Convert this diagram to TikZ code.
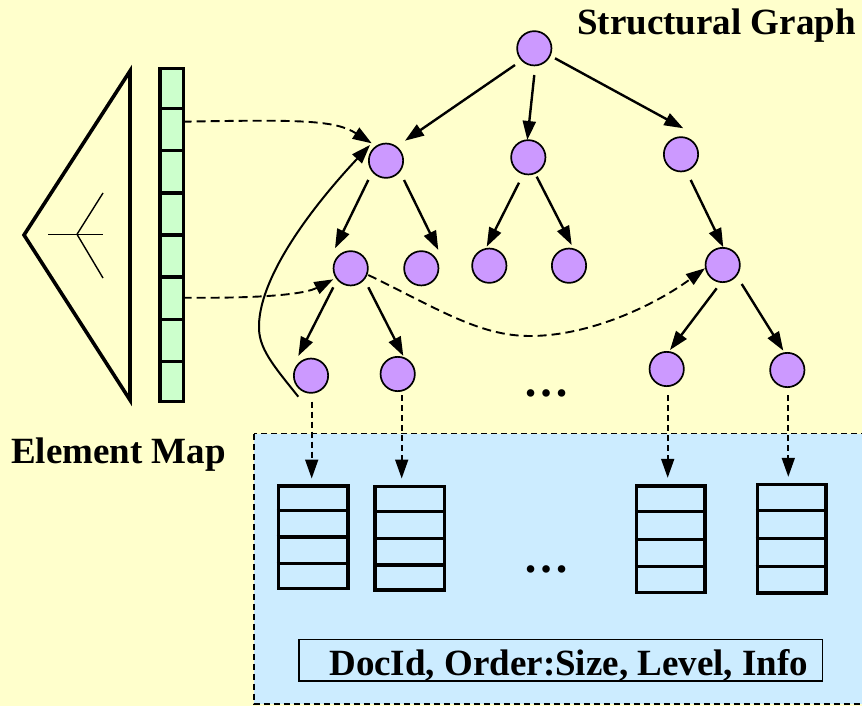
\documentclass[tikz,border=0pt]{standalone}
\usepackage{fontspec}
\setmainfont{Liberation Serif}
\usetikzlibrary{arrows.meta,calc}
\definecolor{bgyellow}{HTML}{FFFFCC}
\definecolor{boxblue}{HTML}{CCECFF}
\definecolor{mapgreen}{HTML}{CCFFCC}
\definecolor{nodepurple}{HTML}{CC99FF}
\begin{document}
\begin{tikzpicture}[x=1pt,y=-1pt,
  gnode/.style={circle, draw=black, line width=1.7pt, fill=nodepurple, minimum size=34.3pt, inner sep=0pt},
  tiptri/.style={-{Triangle[length=19pt,width=13pt]}},
  tarrow/.style={tiptri, line width=2.4pt},
  darrow/.style={tiptri, line width=1.8pt, dash pattern=on 6pt off 4pt},
  carrow/.style={tiptri, line width=1.9pt, dash pattern=on 9pt off 5pt},
  stackbox/.style={draw=black, line width=3.5pt, inner sep=0pt},
  lbl/.style={font=\fontsize{37}{40}\selectfont\bfseries, inner sep=0pt},
  dotlbl/.style={font=\fontsize{46}{50}\selectfont\bfseries, inner sep=0pt},
]
\fill[bgyellow] (0,0) rectangle (862,706);
\useasboundingbox (0,0) rectangle (862,706);
\clip (0,0) rectangle (862,706);

% lower blue region
\draw[fill=boxblue, line width=1.8pt, dash pattern=on 6pt off 4pt] (254,433.5) rectangle (880,704);

% triangle with inner mark
\draw[line width=3.6pt, line join=miter] (130,71) -- (24,235) -- (130,400) -- cycle;
\draw[line width=1.4pt] (48,234.3) -- (103,234.3);
\draw[line width=1.4pt] (77,234.3) -- (103,193);
\draw[line width=1.4pt] (77,234.3) -- (103,278);

% element map column
\node[draw=black, line width=3.4pt, fill=mapgreen, minimum width=23.4pt, minimum height=333.2pt, inner sep=0pt] (emap) at (171.7,235) {};
\foreach \i in {1,...,7}
  \draw[line width=3.2pt] ($(emap.north west)!\i/8!(emap.south west)$) -- ($(emap.north east)!\i/8!(emap.south east)$);

% graph nodes
\node[gnode] (root) at (534.3,48.3) {};
\node[gnode] (A) at (386,160.7) {};
\node[gnode] (M) at (528.3,157.3) {};
\node[gnode] (R) at (681,154.3) {};
\node[gnode] (B) at (350.7,268.3) {};
\node[gnode] (C) at (421.3,268.3) {};
\node[gnode] (M1) at (489.3,265.7) {};
\node[gnode] (M2) at (569,265.7) {};
\node[gnode] (R2) at (722.7,265) {};
\node[gnode] (D) at (311,375.7) {};
\node[gnode] (E) at (397.7,374) {};
\node[gnode] (F) at (666.7,369) {};
\node[gnode] (G) at (787.3,370) {};

% tree arrows
\draw[tarrow] ($(root)+(-19.3,16.7)$) -- ($(A)+(19,-20)$);
\draw[tarrow] ($(root)+(0,26.7)$) -- ($(M)+(-1,-17.3)$);
\draw[tarrow] ($(root)+(20.7,10)$) -- ($(R)+(2.3,-26)$);
\draw[tarrow] ($(A)+(-17.7,19.3)$) -- ($(B)+(-15.7,-20)$);
\draw[tarrow] ($(A)+(18,19.3)$) -- ($(C)+(17,-18.3)$);
\draw[tarrow] ($(B)+(-17.4,19)$) -- ($(D)+(-12.7,-19.7)$);
\draw[tarrow] ($(B)+(17.6,19)$) -- ($(E)+(5.6,-18)$);
\draw[tarrow] ($(M)+(-9.3,25.4)$) -- ($(M1)+(-2.6,-19)$);
\draw[tarrow] ($(M)+(8.4,19.4)$) -- ($(M2)+(2.7,-20.7)$);
\draw[tarrow] ($(R)+(9.7,25.7)$) -- ($(R2)+(0.6,-17.7)$);
\draw[tarrow] ($(R2)+(-6,23.3)$) -- ($(F)+(3.3,-19)$);
\draw[tarrow] ($(R2)+(19,19)$) -- ($(G)+(-4,-19.3)$);

% solid curved back arrow
\draw[tiptri, line width=2pt] ($(D)+(-12.7,21)$) .. controls (273,365) and (258,348) .. (259,325)
   .. controls (260,282) and (300,220) .. ($(A)+(-16,-15.7)$);

% dashed links from element map
\draw[carrow] ($(emap)+(11,-113.3)$) .. controls (300,119.5) and (335,120) .. ($(A)+(-14.3,-17.4)$);
\draw[carrow] ($(emap)+(11,62.7)$) .. controls (265,298.5) and (305,294) .. ($(B)+(-17.4,11)$);
\draw[carrow] ($(B)+(17.6,6.7)$) .. controls (440,310) and (480,336) .. (530,336)
   .. controls (590,336) and (655,305) .. ($(R2)+(-17.7,3.3)$);

% stacks
\node[stackbox, minimum width=69.5pt, minimum height=102.5pt] (s1) at (313,537) {};
\node[stackbox, minimum width=69.5pt, minimum height=103.5pt] (s2) at (409.5,538.3) {};
\node[stackbox, minimum width=68.5pt, minimum height=106.5pt] (s3) at (670.8,539.2) {};
\node[stackbox, minimum width=68.5pt, minimum height=108.5pt] (s4) at (791.5,538.8) {};
\foreach \s in {s1,s2,s3,s4}
  \foreach \i in {1,2,3}
    \draw[line width=3.2pt] ($(\s.north west)!\i/4!(\s.south west)$) -- ($(\s.north east)!\i/4!(\s.south east)$);

% dashed arrows to stacks
\draw[darrow] ($(D)+(0.7,26)$) -- ($(s1.north)+(-1.3,-5.5)$);
\draw[darrow] ($(E)+(4,21)$) -- ($(s2.north)+(-7.8,-6.3)$);
\draw[darrow] ($(F)+(1,26)$) -- ($(s3.north)+(-3.1,-6.4)$);
\draw[darrow] ($(G)+(1,25)$) -- ($(s4.north)+(-3.2,-6)$);

% dots
\node[dotlbl, anchor=base] (dotsup) at (546,396.5) {…};
\node[dotlbl, anchor=base] (dotsdown) at (546,572.5) {…};

% labels
\node[lbl, anchor=base west] (title) at (577,35) {Structural Graph};
\node[lbl, anchor=base west] (maplabel) at (11,463) {Element Map};
\node[lbl, draw=black, line width=1.6pt, minimum width=523.5pt, text height=35.6pt, text depth=6pt, anchor=base] (info) at (560.75,675) {\hspace*{16pt}DocId, Order:Size, Level, Info};
\end{tikzpicture}
\end{document}
